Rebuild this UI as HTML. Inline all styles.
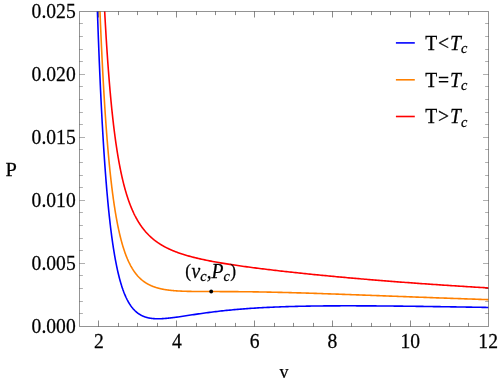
<!DOCTYPE html>
<html><head><meta charset="utf-8"><title>P-v isotherms</title>
<style>
html,body{margin:0;padding:0;background:#fff;}
svg{display:block;font-family:"Liberation Serif",serif;font-size:19.6px;fill:#000;}
.t{filter:grayscale(1);stroke:#000;stroke-width:0.25px;}
.c path{fill:none;stroke-width:1.6;stroke-linejoin:round;}
</style></head><body>
<svg width="498" height="383" viewBox="0 0 498 383">
<rect width="498" height="383" fill="#fff"/>
<defs><clipPath id="cp"><rect x="79.5" y="11.5" width="409.0" height="315.0"/></clipPath></defs>
<g class="c" clip-path="url(#cp)">
<path d="M97.38,10.21 L97.62,17.32 L97.87,24.25 L98.11,31.01 L98.35,37.61 L98.60,44.03 L98.84,50.31 L99.09,56.42 L99.33,62.39 L99.58,68.21 L99.82,73.89 L100.07,79.43 L100.31,84.84 L100.55,90.12 L100.80,95.27 L101.04,100.30 L101.29,105.20 L101.53,109.99 L101.78,114.67 L102.02,119.24 L102.26,123.69 L102.51,128.05 L102.75,132.30 L103.00,136.45 L103.24,140.50 L103.49,144.46 L103.73,148.33 L103.97,152.11 L104.22,155.80 L104.46,159.40 L104.71,162.93 L104.95,166.37 L105.20,169.73 L105.44,173.02 L105.69,176.23 L105.93,179.37 L106.17,182.43 L106.42,185.43 L106.66,188.36 L106.91,191.23 L107.15,194.03 L107.40,196.77 L107.64,199.44 L107.88,202.06 L108.13,204.62 L108.37,207.12 L108.62,209.57 L108.86,211.96 L109.11,214.30 L109.35,216.59 L109.60,218.82 L109.84,221.01 L110.08,223.15 L110.33,225.25 L110.57,227.30 L110.82,229.30 L111.06,231.26 L111.31,233.18 L111.55,235.05 L111.79,236.89 L112.04,238.68 L112.28,240.44 L112.53,242.16 L112.77,243.84 L113.02,245.49 L113.26,247.10 L113.50,248.68 L113.75,250.22 L113.99,251.73 L114.24,253.21 L114.48,254.65 L114.73,256.07 L114.97,257.46 L115.22,258.81 L115.46,260.14 L115.70,261.44 L115.95,262.71 L116.19,263.96 L116.44,265.18 L116.68,266.37 L116.93,267.54 L117.17,268.68 L117.41,269.80 L117.66,270.90 L117.90,271.97 L118.15,273.02 L118.39,274.05 L118.64,275.06 L118.88,276.04 L119.13,277.01 L119.37,277.96 L119.61,278.88 L119.86,279.79 L120.10,280.67 L120.35,281.54 L120.59,282.39 L120.84,283.23 L121.08,284.04 L121.32,284.84 L121.57,285.63 L121.81,286.39 L122.06,287.14 L122.30,287.88 L122.55,288.60 L122.79,289.30 L123.03,289.99 L123.28,290.66 L123.52,291.33 L123.77,291.97 L124.01,292.61 L124.26,293.23 L124.50,293.84 L124.75,294.43 L124.99,295.01 L125.23,295.58 L125.48,296.14 L125.72,296.69 L125.97,297.22 L126.21,297.75 L126.46,298.26 L126.70,298.77 L126.94,299.26 L127.19,299.74 L127.43,300.21 L127.68,300.67 L127.92,301.12 L128.17,301.57 L128.41,302.00 L128.66,302.42 L128.90,302.84 L129.14,303.24 L129.39,303.64 L129.63,304.03 L129.88,304.41 L130.12,304.78 L130.37,305.15 L130.61,305.51 L130.85,305.86 L131.10,306.20 L131.34,306.53 L131.59,306.86 L131.83,307.18 L132.08,307.49 L132.32,307.80 L132.57,308.10 L132.81,308.39 L133.05,308.68 L133.30,308.96 L133.54,309.23 L133.79,309.50 L134.03,309.76 L134.28,310.02 L134.52,310.27 L134.76,310.51 L135.01,310.75 L135.25,310.99 L135.50,311.22 L135.74,311.44 L135.99,311.66 L136.23,311.87 L136.47,312.08 L136.72,312.29 L136.96,312.49 L137.21,312.68 L137.45,312.87 L137.70,313.06 L137.94,313.24 L138.19,313.41 L138.43,313.59 L138.67,313.75 L138.92,313.92 L139.16,314.08 L139.41,314.24 L139.65,314.39 L139.90,314.54 L140.14,314.68 L140.38,314.83 L140.63,314.96 L140.87,315.10 L141.12,315.23 L141.36,315.36 L141.61,315.48 L141.85,315.60 L142.10,315.72 L142.34,315.84 L142.58,315.95 L142.83,316.06 L143.07,316.16 L143.32,316.27 L143.56,316.37 L143.81,316.47 L144.05,316.56 L144.29,316.65 L144.54,316.74 L144.78,316.83 L145.03,316.92 L145.27,317.00 L145.52,317.08 L145.76,317.15 L146.00,317.23 L146.25,317.30 L146.49,317.37 L146.74,317.44 L146.98,317.51 L147.23,317.57 L147.47,317.63 L147.72,317.69 L147.96,317.75 L148.20,317.80 L148.45,317.86 L148.69,317.91 L148.94,317.96 L149.18,318.01 L149.43,318.05 L149.67,318.10 L149.91,318.14 L150.16,318.18 L150.40,318.22 L150.65,318.26 L150.89,318.30 L151.14,318.33 L151.38,318.36 L151.63,318.40 L151.87,318.43 L152.11,318.45 L152.36,318.48 L152.60,318.51 L152.85,318.53 L153.09,318.56 L153.34,318.58 L153.58,318.60 L153.82,318.62 L154.07,318.63 L154.31,318.65 L154.56,318.67 L154.80,318.68 L155.05,318.69 L155.29,318.71 L155.53,318.72 L155.78,318.73 L156.02,318.73 L156.27,318.74 L156.51,318.75 L156.76,318.75 L157.00,318.76 L157.25,318.76 L157.49,318.76 L157.73,318.77 L157.98,318.77 L158.22,318.77 L158.47,318.77 L158.71,318.76 L158.96,318.76 L159.20,318.76 L159.44,318.75 L159.69,318.75 L159.93,318.74 L160.18,318.73 L160.42,318.73 L160.67,318.72 L160.91,318.71 L161.16,318.70 L161.40,318.69 L161.64,318.68 L161.89,318.67 L162.13,318.65 L162.38,318.64 L162.62,318.63 L162.87,318.61 L163.11,318.60 L163.35,318.58 L163.60,318.57 L163.84,318.55 L164.09,318.53 L164.33,318.51 L164.58,318.50 L164.82,318.48 L165.07,318.46 L165.31,318.44 L165.55,318.42 L165.80,318.40 L166.04,318.38 L166.29,318.35 L166.53,318.33 L166.78,318.31 L167.02,318.29 L167.26,318.26 L167.51,318.24 L167.75,318.21 L168.00,318.19 L168.24,318.16 L168.49,318.14 L168.73,318.11 L168.97,318.09 L169.22,318.06 L169.46,318.03 L169.71,318.01 L169.95,317.98 L170.20,317.95 L170.44,317.92 L170.69,317.90 L170.93,317.87 L171.17,317.84 L171.42,317.81 L171.66,317.78 L171.91,317.75 L172.15,317.72 L172.40,317.69 L172.64,317.66 L172.88,317.63 L173.13,317.60 L173.37,317.57 L173.62,317.53 L173.86,317.50 L174.11,317.47 L174.35,317.44 L174.60,317.41 L174.84,317.37 L175.08,317.34 L175.33,317.31 L175.57,317.27 L175.82,317.24 L176.06,317.21 L176.31,317.17 L176.55,317.14 L178.12,316.92 L179.69,316.70 L181.25,316.47 L182.82,316.24 L184.39,316.00 L185.96,315.77 L187.52,315.53 L189.09,315.30 L190.66,315.06 L192.23,314.83 L193.80,314.59 L195.36,314.36 L196.93,314.13 L198.50,313.91 L200.07,313.68 L201.64,313.46 L203.20,313.24 L204.77,313.03 L206.34,312.82 L207.91,312.61 L209.47,312.41 L211.04,312.20 L212.61,312.01 L214.18,311.81 L215.75,311.63 L217.31,311.44 L218.88,311.26 L220.45,311.08 L222.02,310.91 L223.59,310.74 L225.15,310.57 L226.72,310.41 L228.29,310.25 L229.86,310.10 L231.42,309.95 L232.99,309.80 L234.56,309.65 L236.13,309.52 L237.70,309.38 L239.26,309.25 L240.83,309.12 L242.40,308.99 L243.97,308.87 L245.53,308.75 L247.10,308.63 L248.67,308.52 L250.24,308.41 L251.81,308.31 L253.37,308.20 L254.94,308.10 L256.51,308.01 L258.08,307.91 L259.65,307.82 L261.21,307.73 L262.78,307.65 L264.35,307.56 L265.92,307.48 L267.48,307.41 L269.05,307.33 L270.62,307.26 L272.19,307.19 L273.76,307.12 L275.32,307.05 L276.89,306.99 L278.46,306.93 L280.03,306.87 L281.60,306.81 L283.16,306.76 L284.73,306.70 L286.30,306.65 L287.87,306.60 L289.43,306.56 L291.00,306.51 L292.57,306.47 L294.14,306.43 L295.71,306.39 L297.27,306.35 L298.84,306.31 L300.41,306.27 L301.98,306.24 L303.54,306.21 L305.11,306.18 L306.68,306.15 L308.25,306.12 L309.82,306.10 L311.38,306.07 L312.95,306.05 L314.52,306.03 L316.09,306.01 L317.66,305.99 L319.22,305.97 L320.79,305.95 L322.36,305.93 L323.93,305.92 L325.49,305.91 L327.06,305.89 L328.63,305.88 L330.20,305.87 L331.77,305.86 L333.33,305.85 L334.90,305.84 L336.47,305.84 L338.04,305.83 L339.61,305.83 L341.17,305.82 L342.74,305.82 L344.31,305.82 L345.88,305.82 L347.44,305.82 L349.01,305.82 L350.58,305.82 L352.15,305.82 L353.72,305.82 L355.28,305.82 L356.85,305.83 L358.42,305.83 L359.99,305.84 L361.56,305.84 L363.12,305.85 L364.69,305.86 L366.26,305.86 L367.83,305.87 L369.39,305.88 L370.96,305.89 L372.53,305.90 L374.10,305.91 L375.67,305.92 L377.23,305.93 L378.80,305.94 L380.37,305.95 L381.94,305.97 L383.50,305.98 L385.07,305.99 L386.64,306.01 L388.21,306.02 L389.78,306.04 L391.34,306.05 L392.91,306.07 L394.48,306.08 L396.05,306.10 L397.62,306.12 L399.18,306.13 L400.75,306.15 L402.32,306.17 L403.89,306.19 L405.45,306.20 L407.02,306.22 L408.59,306.24 L410.16,306.26 L411.73,306.28 L413.29,306.30 L414.86,306.32 L416.43,306.34 L418.00,306.36 L419.57,306.38 L421.13,306.40 L422.70,306.42 L424.27,306.45 L425.84,306.47 L427.40,306.49 L428.97,306.51 L430.54,306.53 L432.11,306.56 L433.68,306.58 L435.24,306.60 L436.81,306.62 L438.38,306.65 L439.95,306.67 L441.51,306.69 L443.08,306.72 L444.65,306.74 L446.22,306.77 L447.79,306.79 L449.35,306.81 L450.92,306.84 L452.49,306.86 L454.06,306.89 L455.63,306.91 L457.19,306.94 L458.76,306.96 L460.33,306.99 L461.90,307.01 L463.46,307.04 L465.03,307.06 L466.60,307.09 L468.17,307.11 L469.74,307.14 L471.30,307.17 L472.87,307.19 L474.44,307.22 L476.01,307.24 L477.58,307.27 L479.14,307.30 L480.71,307.32 L482.28,307.35 L483.85,307.37 L485.41,307.40 L486.98,307.43 L488.55,307.45" stroke="#0000ff"/>
<path d="M99.82,7.54 L100.07,13.68 L100.31,19.67 L100.55,25.51 L100.80,31.20 L101.04,36.76 L101.29,42.18 L101.53,47.47 L101.78,52.63 L102.02,57.66 L102.26,62.57 L102.51,67.37 L102.75,72.05 L103.00,76.62 L103.24,81.08 L103.49,85.43 L103.73,89.69 L103.97,93.84 L104.22,97.90 L104.46,101.86 L104.71,105.72 L104.95,109.50 L105.20,113.20 L105.44,116.80 L105.69,120.33 L105.93,123.77 L106.17,127.14 L106.42,130.43 L106.66,133.64 L106.91,136.79 L107.15,139.86 L107.40,142.86 L107.64,145.80 L107.88,148.67 L108.13,151.48 L108.37,154.23 L108.62,156.91 L108.86,159.54 L109.11,162.11 L109.35,164.62 L109.60,167.08 L109.84,169.49 L110.08,171.84 L110.33,174.15 L110.57,176.40 L110.82,178.61 L111.06,180.77 L111.31,182.88 L111.55,184.95 L111.79,186.97 L112.04,188.96 L112.28,190.90 L112.53,192.80 L112.77,194.66 L113.02,196.48 L113.26,198.27 L113.50,200.01 L113.75,201.72 L113.99,203.40 L114.24,205.04 L114.48,206.65 L114.73,208.23 L114.97,209.77 L115.22,211.28 L115.46,212.77 L115.70,214.22 L115.95,215.64 L116.19,217.03 L116.44,218.40 L116.68,219.74 L116.93,221.05 L117.17,222.34 L117.41,223.60 L117.66,224.84 L117.90,226.05 L118.15,227.24 L118.39,228.40 L118.64,229.55 L118.88,230.67 L119.13,231.77 L119.37,232.84 L119.61,233.90 L119.86,234.94 L120.10,235.95 L120.35,236.95 L120.59,237.93 L120.84,238.88 L121.08,239.83 L121.32,240.75 L121.57,241.65 L121.81,242.54 L122.06,243.41 L122.30,244.27 L122.55,245.11 L122.79,245.93 L123.03,246.74 L123.28,247.53 L123.52,248.31 L123.77,249.07 L124.01,249.82 L124.26,250.56 L124.50,251.28 L124.75,251.99 L124.99,252.68 L125.23,253.36 L125.48,254.04 L125.72,254.69 L125.97,255.34 L126.21,255.97 L126.46,256.60 L126.70,257.21 L126.94,257.81 L127.19,258.40 L127.43,258.98 L127.68,259.54 L127.92,260.10 L128.17,260.65 L128.41,261.19 L128.66,261.72 L128.90,262.24 L129.14,262.74 L129.39,263.25 L129.63,263.74 L129.88,264.22 L130.12,264.70 L130.37,265.16 L130.61,265.62 L130.85,266.07 L131.10,266.51 L131.34,266.94 L131.59,267.37 L131.83,267.79 L132.08,268.20 L132.32,268.61 L132.57,269.00 L132.81,269.39 L133.05,269.78 L133.30,270.15 L133.54,270.52 L133.79,270.89 L134.03,271.25 L134.28,271.60 L134.52,271.94 L134.76,272.28 L135.01,272.62 L135.25,272.94 L135.50,273.27 L135.74,273.58 L135.99,273.89 L136.23,274.20 L136.47,274.50 L136.72,274.79 L136.96,275.08 L137.21,275.37 L137.45,275.65 L137.70,275.93 L137.94,276.20 L138.19,276.46 L138.43,276.73 L138.67,276.98 L138.92,277.24 L139.16,277.48 L139.41,277.73 L139.65,277.97 L139.90,278.20 L140.14,278.44 L140.38,278.67 L140.63,278.89 L140.87,279.11 L141.12,279.33 L141.36,279.54 L141.61,279.75 L141.85,279.96 L142.10,280.16 L142.34,280.36 L142.58,280.55 L142.83,280.75 L143.07,280.94 L143.32,281.12 L143.56,281.30 L143.81,281.48 L144.05,281.66 L144.29,281.84 L144.54,282.01 L144.78,282.17 L145.03,282.34 L145.27,282.50 L145.52,282.66 L145.76,282.82 L146.00,282.97 L146.25,283.13 L146.49,283.28 L146.74,283.42 L146.98,283.57 L147.23,283.71 L147.47,283.85 L147.72,283.99 L147.96,284.12 L148.20,284.25 L148.45,284.38 L148.69,284.51 L148.94,284.64 L149.18,284.76 L149.43,284.88 L149.67,285.00 L149.91,285.12 L150.16,285.24 L150.40,285.35 L150.65,285.46 L150.89,285.57 L151.14,285.68 L151.38,285.79 L151.63,285.89 L151.87,286.00 L152.11,286.10 L152.36,286.20 L152.60,286.29 L152.85,286.39 L153.09,286.49 L153.34,286.58 L153.58,286.67 L153.82,286.76 L154.07,286.85 L154.31,286.94 L154.56,287.02 L154.80,287.10 L155.05,287.19 L155.29,287.27 L155.53,287.35 L155.78,287.43 L156.02,287.50 L156.27,287.58 L156.51,287.65 L156.76,287.73 L157.00,287.80 L157.25,287.87 L157.49,287.94 L157.73,288.01 L157.98,288.08 L158.22,288.14 L158.47,288.21 L158.71,288.27 L158.96,288.33 L159.20,288.40 L159.44,288.46 L159.69,288.52 L159.93,288.57 L160.18,288.63 L160.42,288.69 L160.67,288.74 L160.91,288.80 L161.16,288.85 L161.40,288.91 L161.64,288.96 L161.89,289.01 L162.13,289.06 L162.38,289.11 L162.62,289.16 L162.87,289.20 L163.11,289.25 L163.35,289.30 L163.60,289.34 L163.84,289.39 L164.09,289.43 L164.33,289.47 L164.58,289.51 L164.82,289.55 L165.07,289.60 L165.31,289.63 L165.55,289.67 L165.80,289.71 L166.04,289.75 L166.29,289.79 L166.53,289.82 L166.78,289.86 L167.02,289.89 L167.26,289.93 L167.51,289.96 L167.75,290.00 L168.00,290.03 L168.24,290.06 L168.49,290.09 L168.73,290.12 L168.97,290.15 L169.22,290.18 L169.46,290.21 L169.71,290.24 L169.95,290.27 L170.20,290.30 L170.44,290.32 L170.69,290.35 L170.93,290.38 L171.17,290.40 L171.42,290.43 L171.66,290.45 L171.91,290.48 L172.15,290.50 L172.40,290.52 L172.64,290.55 L172.88,290.57 L173.13,290.59 L173.37,290.61 L173.62,290.63 L173.86,290.66 L174.11,290.68 L174.35,290.70 L174.60,290.72 L174.84,290.73 L175.08,290.75 L175.33,290.77 L175.57,290.79 L175.82,290.81 L176.06,290.83 L176.31,290.84 L176.55,290.86 L178.12,290.96 L179.69,291.05 L181.25,291.13 L182.82,291.19 L184.39,291.25 L185.96,291.30 L187.52,291.34 L189.09,291.38 L190.66,291.41 L192.23,291.44 L193.80,291.46 L195.36,291.48 L196.93,291.50 L198.50,291.51 L200.07,291.52 L201.64,291.53 L203.20,291.54 L204.77,291.55 L206.34,291.55 L207.91,291.56 L209.47,291.56 L211.04,291.56 L212.61,291.56 L214.18,291.57 L215.75,291.57 L217.31,291.57 L218.88,291.57 L220.45,291.58 L222.02,291.58 L223.59,291.59 L225.15,291.59 L226.72,291.60 L228.29,291.60 L229.86,291.61 L231.42,291.62 L232.99,291.63 L234.56,291.64 L236.13,291.65 L237.70,291.66 L239.26,291.68 L240.83,291.69 L242.40,291.71 L243.97,291.72 L245.53,291.74 L247.10,291.76 L248.67,291.78 L250.24,291.80 L251.81,291.82 L253.37,291.84 L254.94,291.86 L256.51,291.89 L258.08,291.91 L259.65,291.94 L261.21,291.97 L262.78,292.00 L264.35,292.03 L265.92,292.06 L267.48,292.09 L269.05,292.12 L270.62,292.15 L272.19,292.19 L273.76,292.22 L275.32,292.26 L276.89,292.29 L278.46,292.33 L280.03,292.37 L281.60,292.41 L283.16,292.45 L284.73,292.49 L286.30,292.53 L287.87,292.57 L289.43,292.61 L291.00,292.65 L292.57,292.70 L294.14,292.74 L295.71,292.79 L297.27,292.83 L298.84,292.88 L300.41,292.92 L301.98,292.97 L303.54,293.02 L305.11,293.07 L306.68,293.11 L308.25,293.16 L309.82,293.21 L311.38,293.26 L312.95,293.31 L314.52,293.36 L316.09,293.42 L317.66,293.47 L319.22,293.52 L320.79,293.57 L322.36,293.62 L323.93,293.68 L325.49,293.73 L327.06,293.78 L328.63,293.84 L330.20,293.89 L331.77,293.95 L333.33,294.00 L334.90,294.06 L336.47,294.11 L338.04,294.17 L339.61,294.22 L341.17,294.28 L342.74,294.34 L344.31,294.39 L345.88,294.45 L347.44,294.51 L349.01,294.56 L350.58,294.62 L352.15,294.68 L353.72,294.74 L355.28,294.79 L356.85,294.85 L358.42,294.91 L359.99,294.97 L361.56,295.02 L363.12,295.08 L364.69,295.14 L366.26,295.20 L367.83,295.26 L369.39,295.32 L370.96,295.38 L372.53,295.43 L374.10,295.49 L375.67,295.55 L377.23,295.61 L378.80,295.67 L380.37,295.73 L381.94,295.79 L383.50,295.85 L385.07,295.90 L386.64,295.96 L388.21,296.02 L389.78,296.08 L391.34,296.14 L392.91,296.20 L394.48,296.26 L396.05,296.32 L397.62,296.37 L399.18,296.43 L400.75,296.49 L402.32,296.55 L403.89,296.61 L405.45,296.67 L407.02,296.73 L408.59,296.79 L410.16,296.84 L411.73,296.90 L413.29,296.96 L414.86,297.02 L416.43,297.08 L418.00,297.14 L419.57,297.19 L421.13,297.25 L422.70,297.31 L424.27,297.37 L425.84,297.42 L427.40,297.48 L428.97,297.54 L430.54,297.60 L432.11,297.66 L433.68,297.71 L435.24,297.77 L436.81,297.83 L438.38,297.88 L439.95,297.94 L441.51,298.00 L443.08,298.05 L444.65,298.11 L446.22,298.17 L447.79,298.22 L449.35,298.28 L450.92,298.34 L452.49,298.39 L454.06,298.45 L455.63,298.50 L457.19,298.56 L458.76,298.62 L460.33,298.67 L461.90,298.73 L463.46,298.78 L465.03,298.84 L466.60,298.89 L468.17,298.95 L469.74,299.00 L471.30,299.06 L472.87,299.11 L474.44,299.16 L476.01,299.22 L477.58,299.27 L479.14,299.33 L480.71,299.38 L482.28,299.43 L483.85,299.49 L485.41,299.54 L486.98,299.60 L488.55,299.65" stroke="#ff8000"/>
<path d="M104.46,7.43 L104.71,12.06 L104.95,16.59 L105.20,21.01 L105.44,25.33 L105.69,29.54 L105.93,33.66 L106.17,37.68 L106.42,41.61 L106.66,45.45 L106.91,49.20 L107.15,52.86 L107.40,56.44 L107.64,59.94 L107.88,63.36 L108.13,66.71 L108.37,69.98 L108.62,73.18 L108.86,76.30 L109.11,79.36 L109.35,82.36 L109.60,85.28 L109.84,88.15 L110.08,90.95 L110.33,93.69 L110.57,96.38 L110.82,99.00 L111.06,101.58 L111.31,104.09 L111.55,106.56 L111.79,108.97 L112.04,111.34 L112.28,113.65 L112.53,115.92 L112.77,118.14 L113.02,120.31 L113.26,122.45 L113.50,124.54 L113.75,126.58 L113.99,128.59 L114.24,130.56 L114.48,132.48 L114.73,134.37 L114.97,136.23 L115.22,138.04 L115.46,139.82 L115.70,141.57 L115.95,143.28 L116.19,144.97 L116.44,146.61 L116.68,148.23 L116.93,149.82 L117.17,151.38 L117.41,152.90 L117.66,154.40 L117.90,155.88 L118.15,157.32 L118.39,158.74 L118.64,160.13 L118.88,161.50 L119.13,162.84 L119.37,164.16 L119.61,165.46 L119.86,166.73 L120.10,167.98 L120.35,169.21 L120.59,170.41 L120.84,171.60 L121.08,172.76 L121.32,173.90 L121.57,175.03 L121.81,176.13 L122.06,177.22 L122.30,178.29 L122.55,179.34 L122.79,180.37 L123.03,181.38 L123.28,182.38 L123.52,183.36 L123.77,184.33 L124.01,185.28 L124.26,186.21 L124.50,187.13 L124.75,188.03 L124.99,188.92 L125.23,189.79 L125.48,190.65 L125.72,191.50 L125.97,192.33 L126.21,193.15 L126.46,193.96 L126.70,194.76 L126.94,195.54 L127.19,196.31 L127.43,197.07 L127.68,197.81 L127.92,198.55 L128.17,199.27 L128.41,199.98 L128.66,200.68 L128.90,201.38 L129.14,202.06 L129.39,202.73 L129.63,203.39 L129.88,204.04 L130.12,204.68 L130.37,205.31 L130.61,205.94 L130.85,206.55 L131.10,207.15 L131.34,207.75 L131.59,208.34 L131.83,208.92 L132.08,209.49 L132.32,210.05 L132.57,210.61 L132.81,211.15 L133.05,211.69 L133.30,212.23 L133.54,212.75 L133.79,213.27 L134.03,213.78 L134.28,214.28 L134.52,214.78 L134.76,215.27 L135.01,215.75 L135.25,216.23 L135.50,216.70 L135.74,217.16 L135.99,217.62 L136.23,218.07 L136.47,218.52 L136.72,218.96 L136.96,219.39 L137.21,219.82 L137.45,220.24 L137.70,220.66 L137.94,221.07 L138.19,221.48 L138.43,221.88 L138.67,222.28 L138.92,222.67 L139.16,223.06 L139.41,223.44 L139.65,223.81 L139.90,224.19 L140.14,224.55 L140.38,224.92 L140.63,225.28 L140.87,225.63 L141.12,225.98 L141.36,226.33 L141.61,226.67 L141.85,227.01 L142.10,227.34 L142.34,227.67 L142.58,227.99 L142.83,228.32 L143.07,228.63 L143.32,228.95 L143.56,229.26 L143.81,229.57 L144.05,229.87 L144.29,230.17 L144.54,230.47 L144.78,230.76 L145.03,231.05 L145.27,231.34 L145.52,231.62 L145.76,231.90 L146.00,232.18 L146.25,232.45 L146.49,232.72 L146.74,232.99 L146.98,233.25 L147.23,233.51 L147.47,233.77 L147.72,234.03 L147.96,234.28 L148.20,234.53 L148.45,234.78 L148.69,235.03 L148.94,235.27 L149.18,235.51 L149.43,235.75 L149.67,235.98 L149.91,236.21 L150.16,236.44 L150.40,236.67 L150.65,236.90 L150.89,237.12 L151.14,237.34 L151.38,237.56 L151.63,237.78 L151.87,237.99 L152.11,238.20 L152.36,238.41 L152.60,238.62 L152.85,238.82 L153.09,239.03 L153.34,239.23 L153.58,239.43 L153.82,239.63 L154.07,239.82 L154.31,240.02 L154.56,240.21 L154.80,240.40 L155.05,240.58 L155.29,240.77 L155.53,240.96 L155.78,241.14 L156.02,241.32 L156.27,241.50 L156.51,241.68 L156.76,241.85 L157.00,242.03 L157.25,242.20 L157.49,242.37 L157.73,242.54 L157.98,242.71 L158.22,242.87 L158.47,243.04 L158.71,243.20 L158.96,243.36 L159.20,243.52 L159.44,243.68 L159.69,243.84 L159.93,244.00 L160.18,244.15 L160.42,244.30 L160.67,244.46 L160.91,244.61 L161.16,244.76 L161.40,244.90 L161.64,245.05 L161.89,245.20 L162.13,245.34 L162.38,245.48 L162.62,245.62 L162.87,245.77 L163.11,245.90 L163.35,246.04 L163.60,246.18 L163.84,246.32 L164.09,246.45 L164.33,246.58 L164.58,246.72 L164.82,246.85 L165.07,246.98 L165.31,247.11 L165.55,247.24 L165.80,247.36 L166.04,247.49 L166.29,247.62 L166.53,247.74 L166.78,247.86 L167.02,247.98 L167.26,248.11 L167.51,248.23 L167.75,248.35 L168.00,248.46 L168.24,248.58 L168.49,248.70 L168.73,248.81 L168.97,248.93 L169.22,249.04 L169.46,249.16 L169.71,249.27 L169.95,249.38 L170.20,249.49 L170.44,249.60 L170.69,249.71 L170.93,249.82 L171.17,249.93 L171.42,250.03 L171.66,250.14 L171.91,250.24 L172.15,250.35 L172.40,250.45 L172.64,250.55 L172.88,250.66 L173.13,250.76 L173.37,250.86 L173.62,250.96 L173.86,251.06 L174.11,251.16 L174.35,251.25 L174.60,251.35 L174.84,251.45 L175.08,251.54 L175.33,251.64 L175.57,251.73 L175.82,251.83 L176.06,251.92 L176.31,252.01 L176.55,252.10 L178.12,252.68 L179.69,253.23 L181.25,253.77 L182.82,254.28 L184.39,254.77 L185.96,255.24 L187.52,255.70 L189.09,256.14 L190.66,256.57 L192.23,256.99 L193.80,257.39 L195.36,257.78 L196.93,258.15 L198.50,258.52 L200.07,258.88 L201.64,259.23 L203.20,259.57 L204.77,259.90 L206.34,260.22 L207.91,260.54 L209.47,260.85 L211.04,261.15 L212.61,261.44 L214.18,261.73 L215.75,262.02 L217.31,262.30 L218.88,262.57 L220.45,262.84 L222.02,263.10 L223.59,263.36 L225.15,263.62 L226.72,263.87 L228.29,264.12 L229.86,264.36 L231.42,264.60 L232.99,264.84 L234.56,265.08 L236.13,265.31 L237.70,265.54 L239.26,265.76 L240.83,265.98 L242.40,266.21 L243.97,266.42 L245.53,266.64 L247.10,266.85 L248.67,267.06 L250.24,267.27 L251.81,267.48 L253.37,267.68 L254.94,267.89 L256.51,268.09 L258.08,268.29 L259.65,268.49 L261.21,268.68 L262.78,268.88 L264.35,269.07 L265.92,269.26 L267.48,269.45 L269.05,269.64 L270.62,269.83 L272.19,270.01 L273.76,270.20 L275.32,270.38 L276.89,270.56 L278.46,270.74 L280.03,270.92 L281.60,271.10 L283.16,271.27 L284.73,271.45 L286.30,271.62 L287.87,271.80 L289.43,271.97 L291.00,272.14 L292.57,272.31 L294.14,272.48 L295.71,272.65 L297.27,272.81 L298.84,272.98 L300.41,273.15 L301.98,273.31 L303.54,273.47 L305.11,273.63 L306.68,273.80 L308.25,273.96 L309.82,274.11 L311.38,274.27 L312.95,274.43 L314.52,274.59 L316.09,274.74 L317.66,274.90 L319.22,275.05 L320.79,275.21 L322.36,275.36 L323.93,275.51 L325.49,275.66 L327.06,275.81 L328.63,275.96 L330.20,276.11 L331.77,276.26 L333.33,276.40 L334.90,276.55 L336.47,276.70 L338.04,276.84 L339.61,276.98 L341.17,277.13 L342.74,277.27 L344.31,277.41 L345.88,277.55 L347.44,277.69 L349.01,277.83 L350.58,277.97 L352.15,278.11 L353.72,278.25 L355.28,278.38 L356.85,278.52 L358.42,278.66 L359.99,278.79 L361.56,278.93 L363.12,279.06 L364.69,279.19 L366.26,279.32 L367.83,279.46 L369.39,279.59 L370.96,279.72 L372.53,279.85 L374.10,279.98 L375.67,280.10 L377.23,280.23 L378.80,280.36 L380.37,280.49 L381.94,280.61 L383.50,280.74 L385.07,280.86 L386.64,280.99 L388.21,281.11 L389.78,281.23 L391.34,281.36 L392.91,281.48 L394.48,281.60 L396.05,281.72 L397.62,281.84 L399.18,281.96 L400.75,282.08 L402.32,282.20 L403.89,282.32 L405.45,282.43 L407.02,282.55 L408.59,282.67 L410.16,282.78 L411.73,282.90 L413.29,283.01 L414.86,283.13 L416.43,283.24 L418.00,283.35 L419.57,283.47 L421.13,283.58 L422.70,283.69 L424.27,283.80 L425.84,283.91 L427.40,284.02 L428.97,284.13 L430.54,284.24 L432.11,284.35 L433.68,284.46 L435.24,284.56 L436.81,284.67 L438.38,284.78 L439.95,284.88 L441.51,284.99 L443.08,285.09 L444.65,285.20 L446.22,285.30 L447.79,285.41 L449.35,285.51 L450.92,285.61 L452.49,285.71 L454.06,285.82 L455.63,285.92 L457.19,286.02 L458.76,286.12 L460.33,286.22 L461.90,286.32 L463.46,286.42 L465.03,286.51 L466.60,286.61 L468.17,286.71 L469.74,286.81 L471.30,286.91 L472.87,287.00 L474.44,287.10 L476.01,287.19 L477.58,287.29 L479.14,287.38 L480.71,287.48 L482.28,287.57 L483.85,287.66 L485.41,287.76 L486.98,287.85 L488.55,287.94" stroke="#ff0000"/>
</g>
<circle cx="211.2" cy="291.5" r="1.9" fill="#000"/>
<rect x="79.5" y="11.5" width="409.0" height="315.0" fill="none" stroke="#000" stroke-opacity="0.42" stroke-width="1"/>
<path d="M98.5,326.5v-6M98.5,11.5v6M118.5,326.5v-3.6M118.5,11.5v3.6M137.5,326.5v-3.6M137.5,11.5v3.6M157.5,326.5v-3.6M157.5,11.5v3.6M176.5,326.5v-6M176.5,11.5v6M196.5,326.5v-3.6M196.5,11.5v3.6M215.5,326.5v-3.6M215.5,11.5v3.6M235.5,326.5v-3.6M235.5,11.5v3.6M254.5,326.5v-6M254.5,11.5v6M274.5,326.5v-3.6M274.5,11.5v3.6M293.5,326.5v-3.6M293.5,11.5v3.6M313.5,326.5v-3.6M313.5,11.5v3.6M332.5,326.5v-6M332.5,11.5v6M351.5,326.5v-3.6M351.5,11.5v3.6M371.5,326.5v-3.6M371.5,11.5v3.6M390.5,326.5v-3.6M390.5,11.5v3.6M410.5,326.5v-6M410.5,11.5v6M429.5,326.5v-3.6M429.5,11.5v3.6M449.5,326.5v-3.6M449.5,11.5v3.6M468.5,326.5v-3.6M468.5,11.5v3.6" fill="none" stroke="#000" stroke-opacity="0.46" stroke-width="1"/>
<path d="M79.5,313.5h3.4M488.5,313.5h-3.4M79.5,301.5h3.4M488.5,301.5h-3.4M79.5,288.5h3.4M488.5,288.5h-3.4M79.5,275.5h3.4M488.5,275.5h-3.4M79.5,263.5h5.5M488.5,263.5h-5.5M79.5,250.5h3.4M488.5,250.5h-3.4M79.5,238.5h3.4M488.5,238.5h-3.4M79.5,225.5h3.4M488.5,225.5h-3.4M79.5,212.5h3.4M488.5,212.5h-3.4M79.5,200.5h5.5M488.5,200.5h-5.5M79.5,187.5h3.4M488.5,187.5h-3.4M79.5,175.5h3.4M488.5,175.5h-3.4M79.5,162.5h3.4M488.5,162.5h-3.4M79.5,149.5h3.4M488.5,149.5h-3.4M79.5,137.5h5.5M488.5,137.5h-5.5M79.5,124.5h3.4M488.5,124.5h-3.4M79.5,112.5h3.4M488.5,112.5h-3.4M79.5,99.5h3.4M488.5,99.5h-3.4M79.5,86.5h3.4M488.5,86.5h-3.4M79.5,74.5h5.5M488.5,74.5h-5.5M79.5,61.5h3.4M488.5,61.5h-3.4M79.5,49.5h3.4M488.5,49.5h-3.4M79.5,36.5h3.4M488.5,36.5h-3.4M79.5,23.5h3.4M488.5,23.5h-3.4" fill="none" stroke="#000" stroke-opacity="0.31" stroke-width="1"/>
<g class="t">
<g><text transform="translate(98.96,347.90) scale(1,1.045)" text-anchor="middle">2</text><text transform="translate(176.80,347.90) scale(1,1.045)" text-anchor="middle">4</text><text transform="translate(254.64,347.90) scale(1,1.045)" text-anchor="middle">6</text><text transform="translate(332.48,347.90) scale(1,1.045)" text-anchor="middle">8</text><text transform="translate(410.32,347.90) scale(1,1.045)" text-anchor="middle">10</text><text transform="translate(488.16,347.90) scale(1,1.045)" text-anchor="middle">12</text></g>
<g><text transform="translate(75.70,333.10) scale(1,1.045)" text-anchor="end">0.000</text><text transform="translate(75.70,270.08) scale(1,1.045)" text-anchor="end">0.005</text><text transform="translate(75.70,207.06) scale(1,1.045)" text-anchor="end">0.010</text><text transform="translate(75.70,144.04) scale(1,1.045)" text-anchor="end">0.015</text><text transform="translate(75.70,81.02) scale(1,1.045)" text-anchor="end">0.020</text><text transform="translate(75.70,18.00) scale(1,1.045)" text-anchor="end">0.025</text></g>
<text transform="translate(5.40,175.70) scale(1.04,1)">P</text>
<text transform="translate(284.00,378.00) scale(0.92,0.98)" text-anchor="middle">v</text>
<text transform="translate(185.20,277.90) scale(1,1.045)"><tspan font-size="17.4" dy="-0.5">(</tspan><tspan font-style="italic" dy="0.5" dx="0.6">v</tspan><tspan font-style="italic" font-size="14.3" dy="3.3">c</tspan><tspan dy="-3.3">,</tspan><tspan font-style="italic">P</tspan><tspan font-style="italic" font-size="14.3" dy="3.3">c</tspan><tspan dy="-3.8" dx="0.4" font-size="17.4">)</tspan></text>
<text transform="translate(425.30,49.80) scale(1,1.045)">T<tspan dx="0.85">&lt;</tspan><tspan font-style="italic" dx="0.9">T</tspan><tspan font-style="italic" font-size="14.3" dy="3.3">c</tspan></text><text transform="translate(425.30,86.70) scale(1,1.045)">T<tspan dx="0.85">=</tspan><tspan font-style="italic" dx="0.9">T</tspan><tspan font-style="italic" font-size="14.3" dy="3.3">c</tspan></text><text transform="translate(425.30,123.40) scale(1,1.045)">T<tspan dx="0.85">&gt;</tspan><tspan font-style="italic" dx="0.9">T</tspan><tspan font-style="italic" font-size="14.3" dy="3.3">c</tspan></text>
</g>
<path d="M395.9,42.9H414.8" stroke="#0000ff" stroke-width="1.6"/><path d="M395.9,79.8H414.8" stroke="#ff8000" stroke-width="1.6"/><path d="M395.9,116.5H414.8" stroke="#ff0000" stroke-width="1.6"/>
</svg>
</body></html>
